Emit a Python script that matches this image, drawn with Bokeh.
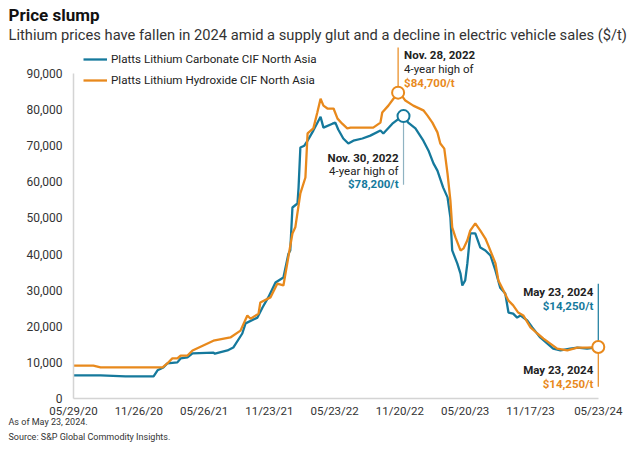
import pandas as pd
from bokeh.plotting import figure
from bokeh.models import (Range1d, FixedTicker, DatetimeTickFormatter, NumeralTickFormatter,
                          Label, Arrow, Legend, LegendItem, Title)
from bokeh.embed import file_html
from bokeh.resources import INLINE

# ---------------- data ----------------
carb_dates = ["2020-05-29", "2020-08-12", "2020-10-20", "2021-01-06", "2021-01-17", "2021-02-02",
              "2021-02-13", "2021-03-13", "2021-03-22", "2021-04-10", "2021-04-24", "2021-06-21",
              "2021-06-25", "2021-07-30", "2021-08-15", "2021-09-09", "2021-09-18", "2021-10-21",
              "2021-11-04", "2021-11-20", "2021-12-10", "2022-01-01", "2022-01-15", "2022-01-20",
              "2022-01-26", "2022-02-09", "2022-02-12", "2022-02-17", "2022-02-28", "2022-03-09",
              "2022-03-25", "2022-04-14", "2022-04-22", "2022-05-17", "2022-05-25", "2022-06-02",
              "2022-06-16", "2022-06-30", "2022-07-14", "2022-08-08", "2022-08-30", "2022-09-27",
              "2022-10-05", "2022-10-30", "2022-11-21", "2022-11-30", "2022-12-13", "2023-01-02",
              "2023-01-24", "2023-02-07", "2023-02-21", "2023-03-04", "2023-03-20", "2023-04-01",
              "2023-04-09", "2023-04-14", "2023-04-28", "2023-05-07", "2023-05-12", "2023-05-20",
              "2023-05-26", "2023-06-03", "2023-06-17", "2023-07-01", "2023-07-15", "2023-07-29",
              "2023-08-12", "2023-08-25", "2023-09-08", "2023-09-17", "2023-09-30", "2023-10-11",
              "2023-10-20", "2023-11-08", "2023-11-22", "2023-12-14", "2024-01-03", "2024-01-19",
              "2024-02-08", "2024-03-06", "2024-03-26", "2024-04-22", "2024-05-23"]
carb_values = [6400, 6400, 6100, 6100, 7800, 8600,
               9700, 10000, 11100, 11400, 12500, 12700,
               12400, 13300, 14100, 18000, 20800, 22400,
               25200, 28000, 32100, 33500, 40100, 41000,
               52900, 54000, 58400, 69500, 70000, 71400,
               74200, 78000, 75000, 76100, 76400, 74500,
               72000, 70600, 71400, 72000, 72800, 74200,
               73400, 76100, 77800, 78200, 76400, 74800,
               71400, 68700, 65100, 63100, 58400, 55700,
               50100, 41000, 37400, 34600, 31300, 32700,
               37400, 45700, 45700, 41800, 41000, 39600,
               35400, 30700, 29100, 23800, 23500, 22400,
               23000, 21600, 19700, 16900, 15200, 13800,
               13300, 13800, 14100, 13800, 14250]

hyd_dates = ["2020-05-29", "2020-07-23", "2020-08-12", "2021-01-31", "2021-02-13", "2021-02-27",
             "2021-03-13", "2021-03-22", "2021-04-10", "2021-04-24", "2021-06-21", "2021-08-07",
             "2021-09-04", "2021-09-23", "2021-10-02", "2021-10-24", "2021-10-29", "2021-11-26",
             "2021-12-15", "2022-01-01", "2022-01-26", "2022-02-03", "2022-02-17", "2022-03-03",
             "2022-03-09", "2022-03-25", "2022-04-05", "2022-04-14", "2022-04-22", "2022-05-03",
             "2022-05-20", "2022-05-31", "2022-06-13", "2022-06-27", "2022-07-06", "2022-09-07",
             "2022-09-27", "2022-10-02", "2022-10-19", "2022-11-02", "2022-11-15", "2022-11-24",
             "2022-12-05", "2022-12-27", "2023-01-24", "2023-02-04", "2023-02-18", "2023-03-04",
             "2023-03-12", "2023-03-23", "2023-04-01", "2023-04-09", "2023-04-14", "2023-04-23",
             "2023-05-07", "2023-05-15", "2023-05-26", "2023-06-03", "2023-06-17", "2023-07-01",
             "2023-07-15", "2023-07-23", "2023-08-12", "2023-08-20", "2023-09-03", "2023-09-17",
             "2023-09-30", "2023-10-14", "2023-10-28", "2023-11-17", "2023-12-06", "2023-12-23",
             "2024-01-11", "2024-01-30", "2024-02-27", "2024-03-26", "2024-04-22", "2024-05-23"]
hyd_values = [9100, 9100, 8600, 8600, 9700, 11100,
              11100, 11900, 11900, 13300, 16000, 16900,
              18800, 23000, 22100, 23500, 26600, 28000,
              31800, 31300, 45700, 47400, 56800, 61200,
              73400, 74800, 79200, 83000, 81100, 80300,
              80300, 77500, 76100, 74800, 75000, 75000,
              76400, 79200, 81100, 83000, 84700, 84000,
              82500, 81100, 79800, 78400, 76400, 73700,
              70600, 69200, 62300, 54800, 47400, 44600,
              41000, 41500, 43800, 46500, 48500, 46500,
              44300, 42400, 37400, 32700, 29900, 27100,
              25800, 23800, 23000, 19700, 18000, 16600,
              15200, 13800, 13300, 14100, 14100, 14250]

x_tick_labels = ["05/29/20", "11/26/20", "05/26/21", "11/23/21", "05/23/22",
                 "11/20/22", "05/20/23", "11/17/23", "05/23/24"]
y_ticks = [0, 10000, 20000, 30000, 40000, 50000, 60000, 70000, 80000, 90000]

carb_name = "Platts Lithium Carbonate CIF North Asia"
hyd_name = "Platts Lithium Hydroxide CIF North Asia"

TEAL = "#15799c"
ORANGE = "#e8891c"
DARK = "#222222"
FONT = "Roboto"


def ms(d):
    return pd.Timestamp(d).value / 1e6


cx = pd.to_datetime(carb_dates)
hx = pd.to_datetime(hyd_dates)
tick_ms = [ms(pd.to_datetime(t, format="%m/%d/%y")) for t in x_tick_labels]

x_start = ms(carb_dates[0])
x_last = ms(carb_dates[-1])
x_end = ms("2024-06-12")          # a little room so the end marker is not clipped
y_top = y_ticks[-1] * 353 / 325    # headroom above 90,000 for the annotations/legend

p = figure(width=640, height=456, x_axis_type="datetime", output_backend="svg",
           toolbar_location=None, title=None,
           x_range=Range1d(x_start, x_end), y_range=Range1d(0, y_top),
           min_border_left=73, min_border_right=35, min_border_top=45, min_border_bottom=58)
p.outline_line_color = None
p.xgrid.grid_line_color = None
p.ygrid.grid_line_color = None
p.background_fill_color = "white"

p.xaxis.ticker = FixedTicker(ticks=tick_ms)
p.xaxis.formatter = DatetimeTickFormatter(days="%m/%d/%y", months="%m/%d/%y", years="%m/%d/%y")
p.xaxis.bounds = (x_start, x_last)
p.yaxis.ticker = FixedTicker(ticks=y_ticks)
p.yaxis.formatter = NumeralTickFormatter(format="0,0")
p.yaxis.bounds = (y_ticks[0], y_ticks[-1])
for ax in (p.xaxis, p.yaxis):
    ax.axis_line_color = "#d4d4d4"
    ax.axis_line_width = 1.5
    ax.major_tick_line_color = None
    ax.minor_tick_line_color = None
    ax.major_tick_out = 0
    ax.major_tick_in = 0
    ax.minor_tick_out = 0
    ax.major_label_text_font = FONT
    ax.major_label_text_color = "#333333"
p.xaxis.major_label_text_font_size = "11.5px"
p.yaxis.major_label_text_font_size = "12px"
p.xaxis.major_label_standoff = 5
p.yaxis.major_label_standoff = 11

r_c = p.line(cx, carb_values, line_color=TEAL, line_width=2.3)
r_h = p.line(hx, hyd_values, line_color=ORANGE, line_width=2.3)

legend = Legend(items=[LegendItem(label=carb_name, renderers=[r_c]),
                       LegendItem(label=hyd_name, renderers=[r_h])],
                location=(10, 311), glyph_width=24, glyph_height=14, label_height=14,
                label_standoff=4, spacing=7, padding=0, margin=0,
                border_line_color=None, background_fill_alpha=0,
                label_text_font=FONT, label_text_font_size="11.6px", label_text_color=DARK)
p.add_layout(legend, "center")

# annotated points
peak_h = (hyd_dates[hyd_values.index(max(hyd_values))], max(hyd_values))
peak_c = (carb_dates[carb_values.index(max(carb_values))], max(carb_values))
last_c = (carb_dates[-1], carb_values[-1])
last_h = (hyd_dates[-1], hyd_values[-1])


def leader(pt, dy, color):
    p.add_layout(Arrow(end=None, x_start=ms(pt[0]), y_start=pt[1], x_end=ms(pt[0]),
                       y_end=pt[1] + dy, line_color=color, line_width=1.2))


leader(peak_h, 12500, ORANGE)
leader(peak_c, -19000, "#8fb3c2")
leader(last_c, 17500, TEAL)
leader(last_h, -11000, ORANGE)

# markers
p.scatter([pd.Timestamp(peak_c[0])], [peak_c[1]], size=12, fill_color="white",
          line_color=TEAL, line_width=2, level="overlay")
p.scatter([pd.Timestamp(peak_h[0]), pd.Timestamp(last_h[0])], [peak_h[1], last_h[1]], size=12,
          fill_color="white", line_color=ORANGE, line_width=2, level="overlay")


def ann(pt, text, color, bold, align, xoff, yoff):
    p.add_layout(Label(x=ms(pt[0]), y=pt[1], x_offset=xoff, y_offset=yoff, text=text,
                       text_align=align, text_baseline="alphabetic", text_font=FONT,
                       text_font_size="11.5px", text_color=color,
                       text_font_style="bold" if bold else "normal"))


ann(peak_h, "Nov. 28, 2022", DARK, True, "left", 6, 38)
ann(peak_h, "4-year high of", DARK, False, "left", 6, 24)
ann(peak_h, "$84,700/t", ORANGE, True, "left", 6, 10)

ann(peak_c, "Nov. 30, 2022", DARK, True, "right", -5, -42)
ann(peak_c, "4-year high of", DARK, False, "right", -5, -55)
ann(peak_c, "$78,200/t", TEAL, True, "right", -5, -68)

ann(last_c, "May 23, 2024", DARK, True, "right", -5, 55)
ann(last_c, "$14,250/t", TEAL, True, "right", -5, 41)
ann(last_h, "May 23, 2024", DARK, True, "right", -5, -23)
ann(last_h, "$14,250/t", ORANGE, True, "right", -5, -37)

# titles (above, first added is nearest the plot) and footers (below)
p.add_layout(Title(text="Lithium prices have fallen in 2024 amid a supply glut and a decline in electric vehicle sales ($/t)",
                   align="left", offset=-65, standoff=3, text_font=FONT, text_font_size="14.7px",
                   text_font_style="normal", text_color="#333333"), "above")
p.add_layout(Title(text="Price slump", align="left", offset=-65, standoff=-4, text_font=FONT,
                   text_font_size="17px", text_font_style="bold", text_color="#111111"), "above")
p.add_layout(Title(text="As of May 23, 2024.", align="left", offset=-65, standoff=-12,
                   text_font=FONT, text_font_size="9px", text_font_style="normal",
                   text_color="#333333"), "below")
p.add_layout(Title(text="Source: S&P Global Commodity Insights.", align="left", offset=-65,
                   standoff=18, text_font=FONT, text_font_size="9px", text_font_style="normal",
                   text_color="#333333"), "below")

open("out.html", "w").write(file_html(p, INLINE))
